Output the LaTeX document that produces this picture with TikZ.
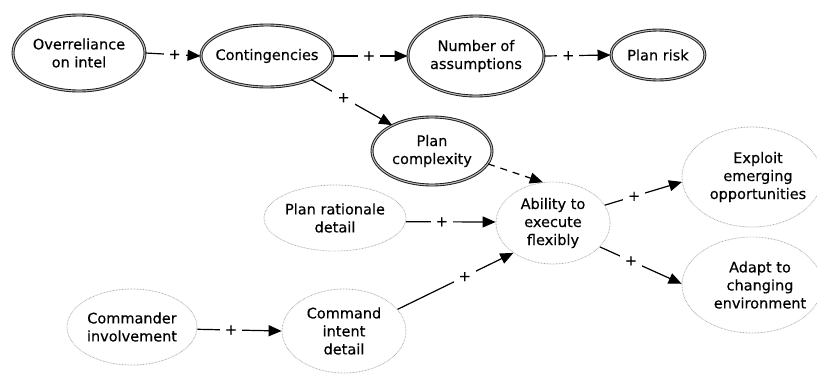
\documentclass[tikz,border=0pt]{standalone}
\usepackage{fontspec}
\setmainfont{DejaVu Sans}[FakeBold=0.3]
\usetikzlibrary{shapes.geometric,arrows.meta}
\begin{document}
\begin{tikzpicture}[x=1pt,y=-1pt,
  txt/.style={font=\fontsize{14.5}{18}\selectfont},
  every label/.style={align=center,txt,inner sep=0pt},
  core/.style={ellipse,draw=black!90,line width=0.9pt,double=gray!55,double distance=1.1pt,inner sep=0pt},
  soft/.style={ellipse,draw=gray!65,line width=0.8pt,dash pattern=on 0.7pt off 0.8pt,inner sep=0pt},
  link/.style={line width=1.2pt,-{Triangle[length=13pt,width=11pt]}},
  sign/.style={fill=white,inner sep=5pt,txt}]
\useasboundingbox (0,0) rectangle (817,373);

% factors of the plan
\node[core,minimum width=132pt,minimum height=76pt,label={center:Overreliance\\on intel}] (ov) at (79,53) {};
\node[core,minimum width=132pt,minimum height=62pt,label={center:Contingencies}] (ct) at (267,56) {};
\node[core,minimum width=136pt,minimum height=80pt,label={center:Number of\\assumptions}] (na) at (476,56) {};
\node[core,minimum width=94pt,minimum height=50pt,label={center:Plan risk}] (pr) at (658,55) {};
\node[core,minimum width=120pt,minimum height=68pt,label={center:Plan\\complexity}] (pc) at (432,151) {};

% factors of execution
\node[soft,minimum width=142pt,minimum height=66pt,label={center:Plan rationale\\detail}] (rd) at (335,218) {};
\node[soft,minimum width=114pt,minimum height=82pt,label={center:Ability to\\execute\\flexibly}] (ab) at (553,223) {};
\node[soft,minimum width=140pt,minimum height=100pt,label={[xshift=6pt]center:Exploit\\emerging\\opportunities}] (ex) at (752,177) {};
\node[soft,minimum width=140pt,minimum height=96pt,label={[xshift=8pt]center:Adapt to\\changing\\environment}] (ad) at (752,285) {};
\node[soft,minimum width=130pt,minimum height=76pt,label={center:Commander\\involvement}] (ci) at (132,327) {};
\node[soft,minimum width=124pt,minimum height=84pt,label={center:Command\\intent\\detail}] (id) at (344,331) {};

% influences
\draw[link] (ov.0) -- node[sign,pos=0.53] {+} (ct.180);
\draw[link] (ct.0) -- node[sign,pos=0.48] {+} (na.180);
\draw[link] (na.0) -- node[sign,pos=0.36] {+} (pr.180);
\draw[link] (ct.-28) -- node[sign,pos=0.4] {+} (pc.147);
\draw[link,dash pattern=on 7pt off 6pt] (pc.-13) -- (ab.104);
\draw[link] (rd.-3) -- node[sign,pos=0.4] {+} (ab.179);
\draw[link] (ab.19) -- node[sign,pos=0.38] {+} (ex.184);
\draw[link] (ab.-27) -- node[sign,pos=0.38] {+} (ad.179);
\draw[link] (ci.-2) -- node[sign,pos=0.4] {+} (id.180);
\draw[link] (id.22) -- node[sign,pos=0.58] {+} (ab.217);
\end{tikzpicture}
\end{document}
